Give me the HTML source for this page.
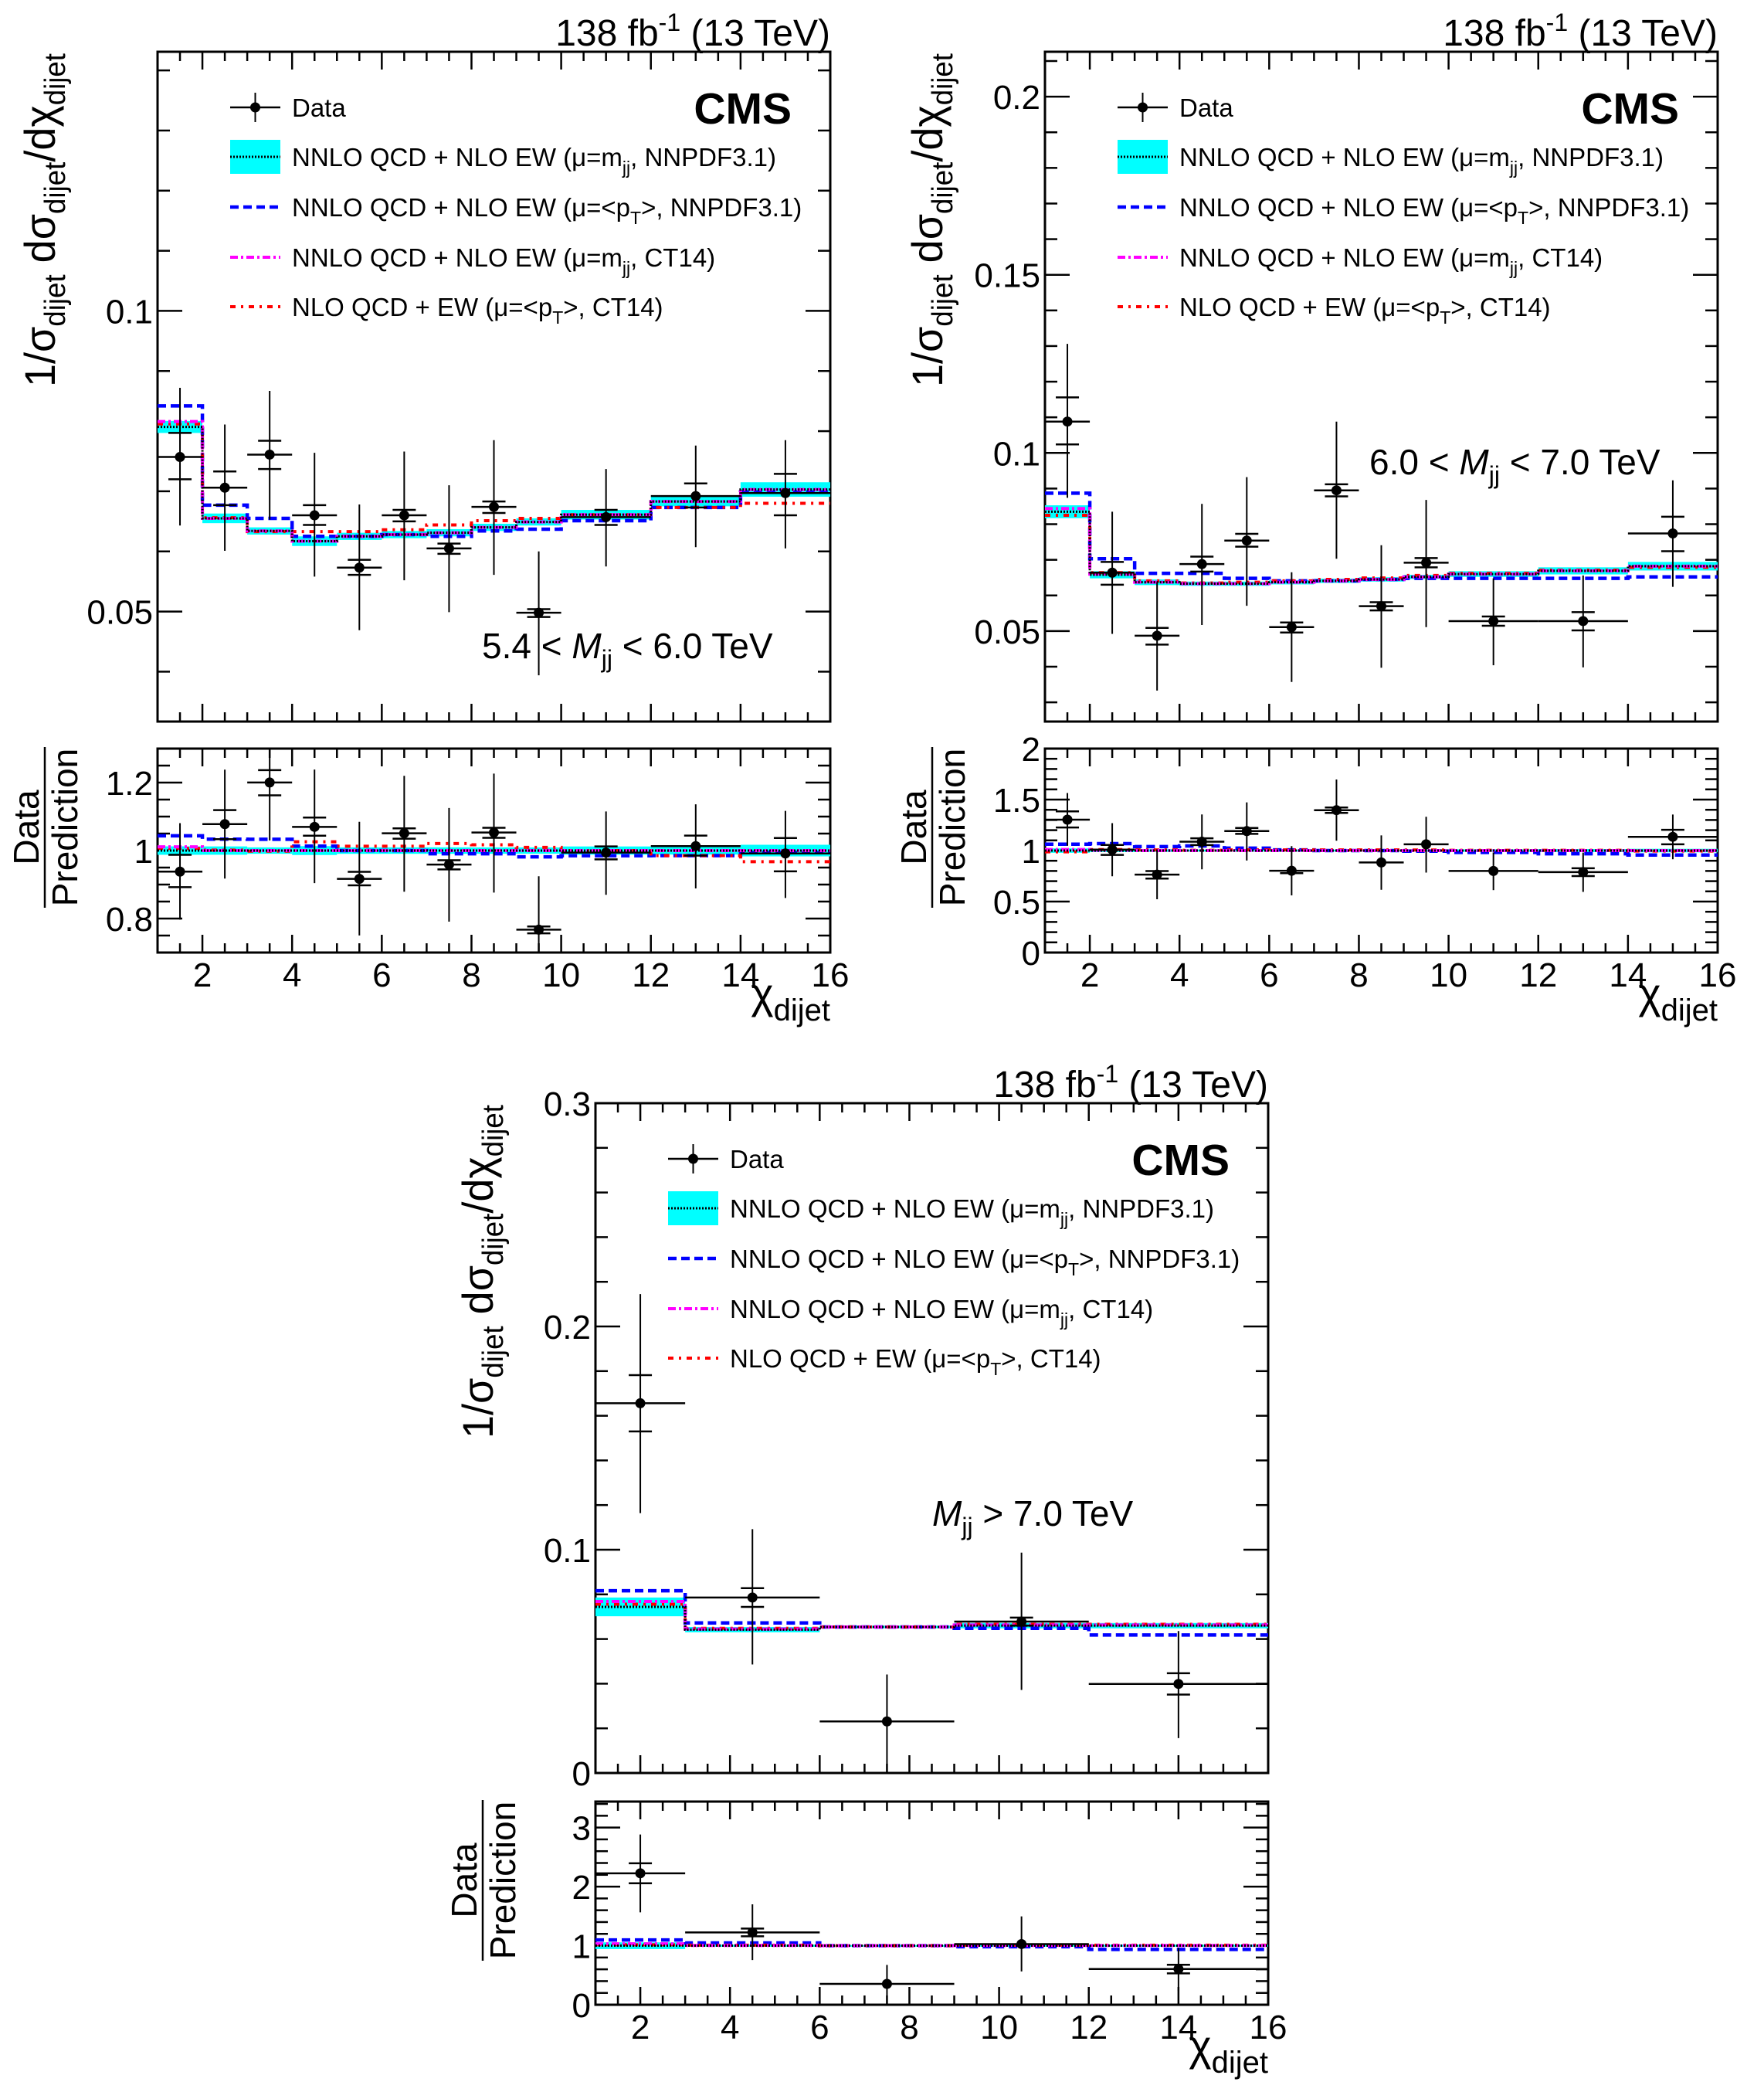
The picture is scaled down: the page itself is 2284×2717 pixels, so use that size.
<!DOCTYPE html>
<html><head><meta charset="utf-8"><title>CMS dijet angular distributions</title>
<style>
html,body{margin:0;padding:0;background:#fff;}
svg{display:block;font-family:"Liberation Sans",Arial,sans-serif;}
</style></head>
<body>
<svg id="fig" xmlns="http://www.w3.org/2000/svg" width="2284" height="2717" viewBox="0 0 2284 2717">
<rect x="0" y="0" width="2284" height="2717" fill="#fff"/>
</svg>
<script>
// ---------- Panel 1: 5.4 < Mjj < 6.0 TeV ----------
const p1Edges = [1,2,3,4,5,6,7,8,9,10,12,14,16];
const p1Data  = [0.0757,0.0706,0.0761,0.0660,0.0573,0.0660,0.0605,0.0674,0.0498,0.0657,0.0692,0.0697];
const p1TotHi = [0.0872,0.0811,0.0867,0.0764,0.0678,0.0766,0.0710,0.0785,0.0600,0.0737,0.0776,0.0785];
const p1TotLo = [0.0643,0.0601,0.0653,0.0558,0.0469,0.0552,0.0499,0.0561,0.0394,0.0575,0.0607,0.0605];
const p1StatHi = [0.0797,0.0733,0.0784,0.0677,0.0586,0.0669,0.0613,0.0683,0.0504,0.0669,0.0713,0.0729];
const p1StatLo = [0.0720,0.0677,0.0737,0.0644,0.0561,0.0650,0.0596,0.0664,0.0491,0.0644,0.0673,0.0660];
const p1Nom  = [0.0807,0.0655,0.0634,0.0617,0.0625,0.0628,0.0631,0.0640,0.0649,0.0661,0.0683,0.0703];
const p1Band = [0.0010,0.0008,0.0006,0.0008,0.0006,0.0006,0.0006,0.0006,0.0006,0.0008,0.0008,0.0012];
const p1Blue = [0.0842,0.0677,0.0655,0.0625,0.0625,0.0628,0.0625,0.0634,0.0637,0.0651,0.0673,0.0699];
const p1Mag  = [0.0816,0.0655,0.0634,0.0617,0.0625,0.0628,0.0631,0.0640,0.0649,0.0661,0.0683,0.0703];
const p1Red  = [0.0812,0.0656,0.0633,0.0633,0.0633,0.0636,0.0644,0.0651,0.0655,0.0661,0.0673,0.0680];
const p1YTicks = [0.05,0.1];
const p1YLabels = ["0.05","0.1"];
const p1RTicks = [0.8,1,1.2];
const p1RLabels = ["0.8","1","1.2"];

// ---------- Panel 2: 6.0 < Mjj < 7.0 TeV ----------
const p2Edges = [1,2,3,4,5,6,7,8,9,10,12,14,16];
const p2Data  = [0.1088,0.0664,0.0487,0.0688,0.0754,0.0511,0.0895,0.0570,0.0692,0.0528,0.0528,0.0774];
const p2TotHi = [0.1306,0.0835,0.0637,0.0857,0.0932,0.0665,0.1088,0.0741,0.0868,0.0648,0.0656,0.0923];
const p2TotLo = [0.0874,0.0492,0.0333,0.0517,0.0571,0.0357,0.0703,0.0397,0.0511,0.0404,0.0398,0.0624];
const p2StatHi = [0.1156,0.0694,0.0509,0.0709,0.0773,0.0524,0.0912,0.0581,0.0705,0.0541,0.0553,0.0821];
const p2StatLo = [0.1024,0.0630,0.0462,0.0667,0.0737,0.0496,0.0878,0.0558,0.0679,0.0515,0.0502,0.0724];
const p2Nom  = [0.0835,0.0658,0.0637,0.0633,0.0633,0.0637,0.0641,0.0645,0.0652,0.0660,0.0669,0.0682];
const p2Band = [0.0018,0.0010,0.0008,0.0006,0.0006,0.0006,0.0006,0.0006,0.0006,0.0008,0.0010,0.0012];
const p2Blue = [0.0887,0.0703,0.0662,0.0662,0.0648,0.0641,0.0641,0.0645,0.0648,0.0648,0.0648,0.0652];
const p2Mag  = [0.0844,0.0660,0.0637,0.0633,0.0633,0.0637,0.0641,0.0645,0.0652,0.0660,0.0669,0.0682];
const p2Red  = [0.0825,0.0664,0.0641,0.0635,0.0637,0.0641,0.0645,0.0649,0.0656,0.0662,0.0671,0.0679];
const p2YTicks = [0.05,0.1,0.15,0.2];
const p2YLabels = ["0.05","0.1","0.15","0.2"];
const p2RTicks = [0,0.5,1,1.5,2];
const p2RLabels = ["0","0.5","1","1.5","2"];

// ---------- Panel 3: Mjj > 7.0 TeV ----------
const p3Edges = [1,3,6,9,12,16];
const p3Data  = [0.1656,0.0786,0.0231,0.0678,0.0399];
const p3TotHi = [0.2145,0.1092,0.0441,0.0987,0.0636];
const p3TotLo = [0.1164,0.0486,0.0,0.0372,0.0156];
const p3StatHi = [0.1782,0.0828,0.0231,0.0696,0.0447];
const p3StatLo = [0.1530,0.0744,0.0231,0.0660,0.0351];
const p3Nom  = [0.0744,0.0642,0.0654,0.0660,0.0660];
const p3Band = [0.0042,0.0012,0.0006,0.0012,0.0012];
const p3Blue = [0.0816,0.0672,0.0654,0.0648,0.0618];
const p3Mag  = [0.0768,0.0645,0.0654,0.0663,0.0663];
const p3Red  = [0.0756,0.0648,0.0654,0.0666,0.0666];
const p3YTicks = [0,0.1,0.2,0.3];
const p3YLabels = ["0","0.1","0.2","0.3"];
const p3RTicks = [0,1,2,3];
const p3RLabels = ["0","1","2","3"];

const xTicks = [2,4,6,8,10,12,14,16];
const xLabels = ["2","4","6","8","10","12","14","16"];

const NS = "http://www.w3.org/2000/svg";
const svg = document.getElementById('fig');
function mk(tag, attrs, parent){
  const e = document.createElementNS(NS, tag);
  for (const k in attrs) e.setAttribute(k, attrs[k]);
  (parent||svg).appendChild(e);
  return e;
}
let clipId = 0;

function stepPath(edges, vals, sx, sy){
  let d = "M" + sx(edges[0]) + "," + sy(vals[0]);
  for (let i=0;i<vals.length;i++){
    if (i>0) d += " V" + sy(vals[i]);
    d += " H" + sx(edges[i+1]);
  }
  return d;
}

function drawAxisFrame(g, L, R, T, B, ymin, ymax, yMajor, yMinorStep, yLabels, showXLabels, name){
  const sx = v => L + (v-1)/(15)*(R-L);
  const sy = v => B - (v-ymin)/(ymax-ymin)*(B-T);
  for (let k=0; k<=30; k++){
    const xv = 1 + k*0.5;
    if (xv<=1 || xv>=16) continue;
    const major = Math.abs(xv/2 - Math.round(xv/2))<1e-6;
    const len = major?23:12;
    mk('line',{x1:sx(xv),x2:sx(xv),y1:B,y2:B-len,stroke:'#000','stroke-width':2.5},g);
    mk('line',{x1:sx(xv),x2:sx(xv),y1:T,y2:T+len,stroke:'#000','stroke-width':2.5},g);
  }
  const start = Math.ceil(ymin/yMinorStep-1e-6);
  const end = Math.floor(ymax/yMinorStep+1e-6);
  for (let k=start;k<=end;k++){
    const yv = k*yMinorStep;
    const major = yMajor.some(m=>Math.abs(m-yv)<1e-9);
    const len = major?32:16;
    mk('line',{x1:L,x2:L+len,y1:sy(yv),y2:sy(yv),stroke:'#000','stroke-width':2.5},g);
    mk('line',{x1:R,x2:R-len,y1:sy(yv),y2:sy(yv),stroke:'#000','stroke-width':2.5},g);
  }
  yMajor.forEach((m,i)=>{
    const t = mk('text',{x:L-6,y:sy(m)+16,'text-anchor':'end','font-size':44,fill:'#000'},g);
    
    
    t.textContent = yLabels[i];
  });
  if (showXLabels){
    xTicks.forEach((xv,i)=>{
      const t = mk('text',{x:sx(xv),y:B+44,'text-anchor':'middle','font-size':44,fill:'#000'},g);
      
      
      t.textContent = xLabels[i];
    });
  }
  const fr = mk('rect',{x:L,y:T,width:R-L,height:B-T,fill:'none',stroke:'#000','stroke-width':3},g);
  
  
  return {sx, sy};
}

function drawSeries(g, L, R, T, B, sx, sy, edges, nom, band, blue, mag, red, data, tHi, tLo, sHi, sLo, name){
  clipId++;
  const cp = mk('clipPath',{id:'cp'+clipId},g);
  mk('rect',{x:L,y:T,width:R-L,height:B-T},cp);
  const cg = mk('g',{'clip-path':'url(#cp'+clipId+')'},g);
  for (let i=0;i<nom.length;i++){
    const r = mk('rect',{x:sx(edges[i]),y:sy(nom[i]+band[i]),width:sx(edges[i+1])-sx(edges[i]),height:Math.max(2,sy(nom[i]-band[i])-sy(nom[i]+band[i])),fill:'#00ffff'},cg);
    
    
  }
  const pb = mk('path',{d:stepPath(edges,blue,sx,sy),fill:'none',stroke:'#0000ff','stroke-width':4.5,'stroke-dasharray':'11,6'},cg);
  
  
  const pr = mk('path',{d:stepPath(edges,red,sx,sy),fill:'none',stroke:'#ff0000','stroke-width':4,'stroke-dasharray':'7,7,3,7'},cg);
  
  
  const pm = mk('path',{d:stepPath(edges,mag,sx,sy),fill:'none',stroke:'#ff00ff','stroke-width':4,'stroke-dasharray':'10,4,3,4'},cg);
  
  
  const pn = mk('path',{d:stepPath(edges,nom,sx,sy),fill:'none',stroke:'#000','stroke-width':3,'stroke-dasharray':'2,2'},cg);
  
  
  for (let i=0;i<data.length;i++){
    const xc = (edges[i]+edges[i+1])/2;
    const pg = mk('g',{},cg);
    
    
    mk('line',{x1:sx(edges[i]),x2:sx(edges[i+1]),y1:sy(data[i]),y2:sy(data[i]),stroke:'#000','stroke-width':2.5},pg);
    mk('line',{x1:sx(xc),x2:sx(xc),y1:sy(tHi[i]),y2:sy(tLo[i]),stroke:'#000','stroke-width':2},pg);
    if (Math.abs(sy(sHi[i])-sy(data[i]))>3){
      mk('line',{x1:sx(xc)-15,x2:sx(xc)+15,y1:sy(sHi[i]),y2:sy(sHi[i]),stroke:'#000','stroke-width':2.5},pg);
    }
    if (Math.abs(sy(sLo[i])-sy(data[i]))>3){
      mk('line',{x1:sx(xc)-15,x2:sx(xc)+15,y1:sy(sLo[i]),y2:sy(sLo[i]),stroke:'#000','stroke-width':2.5},pg);
    }
    mk('circle',{cx:sx(xc),cy:sy(data[i]),r:6.5,fill:'#000'},pg);
  }
}

function sub(parent, txt, dy, size){
  const t = mk('tspan',{dy:dy,'font-size':size},parent);
  t.textContent = txt;
  return t;
}

function drawPanel(cfg){
  const g = mk('g',{});
  
  
  const {L,R,T,B,rT,rB} = cfg;
  const m = drawAxisFrame(g,L,R,T,B,cfg.ymin,cfg.ymax,cfg.yTicks,cfg.yMinor,cfg.yLabels,false,cfg.name+'-main');
  drawSeries(g,L,R,T,B,m.sx,m.sy,cfg.edges,cfg.nom,cfg.band,cfg.blue,cfg.mag,cfg.red,cfg.data,cfg.tHi,cfg.tLo,cfg.sHi,cfg.sLo,cfg.name+'-main');
  const r = drawAxisFrame(g,L,R,rT,rB,cfg.rmin,cfg.rmax,cfg.rTicks,cfg.rMinor,cfg.rLabels,true,cfg.name+'-ratio');
  const n = cfg.nom;
  const div = a => a.map((v,i)=>v/n[i]);
  drawSeries(g,L,R,rT,rB,r.sx,r.sy,cfg.edges,n.map(()=>1),div(cfg.band),div(cfg.blue),div(cfg.mag),div(cfg.red),div(cfg.data),div(cfg.tHi),div(cfg.tLo),div(cfg.sHi),div(cfg.sLo),cfg.name+'-ratio');

  const lu = mk('text',{x:R,y:T-8,'text-anchor':'end','font-size':48,fill:'#000'},g);
  
  
  sub(lu,'138 fb',0,48); sub(lu,'-1',-19,32); sub(lu,' (13 TeV)',19,48);
  const cms = mk('text',{x:L+821,y:T+93,'text-anchor':'end','font-size':57,'font-weight':'bold',fill:'#000'},g);
  
  
  cms.textContent='CMS';
  const lg = mk('g',{},g);
  
  
  const lx0=L+94, lx1=L+159, tx=L+174;
  const rows=[T+72,T+136,T+201,T+266,T+330];
  const FS = 33, FSS = 23;
  const e0 = mk('g',{},lg);
  
  
  mk('line',{x1:lx0,x2:lx1,y1:rows[0],y2:rows[0],stroke:'#000','stroke-width':2.5},e0);
  mk('line',{x1:(lx0+lx1)/2,x2:(lx0+lx1)/2,y1:rows[0]-19,y2:rows[0]+19,stroke:'#000','stroke-width':2},e0);
  mk('circle',{cx:(lx0+lx1)/2,cy:rows[0],r:6.5,fill:'#000'},e0);
  const t0 = mk('text',{x:tx,y:rows[0]+12,'font-size':FS,fill:'#000'},e0); t0.textContent='Data';
  const e1 = mk('g',{},lg);
  
  
  mk('rect',{x:lx0,y:rows[1]-22,width:lx1-lx0,height:44,fill:'#00ffff'},e1);
  mk('line',{x1:lx0,x2:lx1,y1:rows[1],y2:rows[1],stroke:'#000','stroke-width':3,'stroke-dasharray':'2,2'},e1);
  const t1 = mk('text',{x:tx,y:rows[1]+12,'font-size':FS,fill:'#000'},e1);
  sub(t1,'NNLO QCD + NLO EW (\u03bc=m',0,FS); sub(t1,'jj',10,FSS); sub(t1,', NNPDF3.1)',-10,FS);
  const e2 = mk('g',{},lg);
  
  
  mk('line',{x1:lx0,x2:lx1,y1:rows[2],y2:rows[2],stroke:'#0000ff','stroke-width':4.5,'stroke-dasharray':'11,6'},e2);
  const t2 = mk('text',{x:tx,y:rows[2]+12,'font-size':FS,fill:'#000'},e2);
  sub(t2,'NNLO QCD + NLO EW (\u03bc=<p',0,FS); sub(t2,'T',10,FSS); sub(t2,'>, NNPDF3.1)',-10,FS);
  const e3 = mk('g',{},lg);
  
  
  mk('line',{x1:lx0,x2:lx1,y1:rows[3],y2:rows[3],stroke:'#ff00ff','stroke-width':4,'stroke-dasharray':'10,4,3,4'},e3);
  const t3 = mk('text',{x:tx,y:rows[3]+12,'font-size':FS,fill:'#000'},e3);
  sub(t3,'NNLO QCD + NLO EW (\u03bc=m',0,FS); sub(t3,'jj',10,FSS); sub(t3,', CT14)',-10,FS);
  const e4 = mk('g',{},lg);
  
  
  mk('line',{x1:lx0,x2:lx1,y1:rows[4],y2:rows[4],stroke:'#ff0000','stroke-width':4,'stroke-dasharray':'7,7,3,7'},e4);
  const t4 = mk('text',{x:tx,y:rows[4]+12,'font-size':FS,fill:'#000'},e4);
  sub(t4,'NLO QCD + EW (\u03bc=<p',0,FS); sub(t4,'T',10,FSS); sub(t4,'>, CT14)',-10,FS);

  const ml = mk('text',{x:cfg.mx,y:cfg.my,'font-size':46,fill:'#000'},g);
  
  
  sub(ml,cfg.mPre,0,46);
  const mi = sub(ml,'M',0,46); mi.setAttribute('font-style','italic');
  sub(ml,'jj',12,32); sub(ml,cfg.mPost,-12,46);

  const yt = mk('text',{transform:'translate('+(L-133)+','+(T+434)+') rotate(-90)','font-size':56,fill:'#000',textLength:432,lengthAdjust:'spacingAndGlyphs'},g);
  
  
  sub(yt,'1/\u03c3',0,56); sub(yt,'dijet',13,38); sub(yt,' d\u03c3',-13,56); sub(yt,'dijet',13,38); sub(yt,'/d\u03c7',-13,56); sub(yt,'dijet',13,38);

  const rt = mk('g',{},g);
  
  
  const cy = rT+102;
  const ta = mk('text',{transform:'translate('+(L-154)+','+cy+') rotate(-90)','text-anchor':'middle','font-size':46,fill:'#000'},rt); ta.textContent='Data';
  mk('line',{x1:L-146,x2:L-146,y1:rT-2,y2:rT+206,stroke:'#000','stroke-width':2.5},rt);
  const tb = mk('text',{transform:'translate('+(L-104)+','+cy+') rotate(-90)','text-anchor':'middle','font-size':46,fill:'#000'},rt); tb.textContent='Prediction';

  const xt = mk('text',{x:R,y:rB+72,'text-anchor':'end','font-size':56,fill:'#000'},g);
  
  
  sub(xt,'\u03c7',0,56); sub(xt,'dijet',16,40);
}

drawPanel({name:'panel-5p4-6p0',L:204,R:1075,T:67,B:934,rT:969,rB:1233,
  ymin:0.0317,ymax:0.1431,yTicks:p1YTicks,yMinor:0.01,yLabels:p1YLabels,
  rmin:0.7,rmax:1.3,rTicks:p1RTicks,rMinor:0.05,rLabels:p1RLabels,
  edges:p1Edges,nom:p1Nom,band:p1Band,blue:p1Blue,mag:p1Mag,red:p1Red,
  data:p1Data,tHi:p1TotHi,tLo:p1TotLo,sHi:p1StatHi,sLo:p1StatLo,
  mx:624,my:852,mPre:'5.4 < ',mPost:' < 6.0 TeV'});
drawPanel({name:'panel-6p0-7p0',L:1353,R:2224,T:67,B:934,rT:969,rB:1233,
  ymin:0.0246,ymax:0.2126,yTicks:p2YTicks,yMinor:0.01,yLabels:p2YLabels,
  rmin:0,rmax:2,rTicks:p2RTicks,rMinor:0.1,rLabels:p2RLabels,
  edges:p2Edges,nom:p2Nom,band:p2Band,blue:p2Blue,mag:p2Mag,red:p2Red,
  data:p2Data,tHi:p2TotHi,tLo:p2TotLo,sHi:p2StatHi,sLo:p2StatLo,
  mx:1773,my:614,mPre:'6.0 < ',mPost:' < 7.0 TeV'});
drawPanel({name:'panel-above-7p0',L:771,R:1642,T:1428,B:2295,rT:2332,rB:2595,
  ymin:0,ymax:0.3,yTicks:p3YTicks,yMinor:0.02,yLabels:p3YLabels,
  rmin:0,rmax:3.44,rTicks:p3RTicks,rMinor:0.2,rLabels:p3RLabels,
  edges:p3Edges,nom:p3Nom,band:p3Band,blue:p3Blue,mag:p3Mag,red:p3Red,
  data:p3Data,tHi:p3TotHi,tLo:p3TotLo,sHi:p3StatHi,sLo:p3StatLo,
  mx:1207,my:1975,mPre:'',mPost:' > 7.0 TeV'});
</script>
</body></html>
